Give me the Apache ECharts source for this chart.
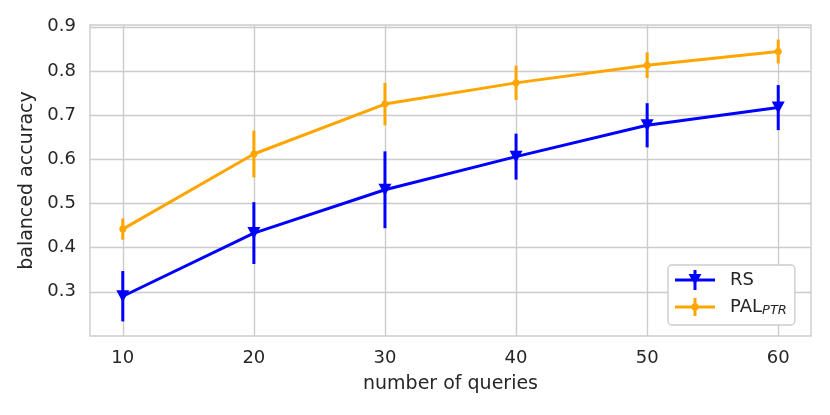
<!DOCTYPE html>
<html>
<head>
<meta charset="utf-8">
<script src="https://cdn.jsdelivr.net/npm/echarts@6/dist/echarts.min.js"></script>
<style>html,body{margin:0;padding:0;background:#fff;}#c{width:830px;height:415px;}</style>
</head>
<body>
<div id="c"></div>
<script>
// ---- data ----
const queries = [10, 20, 30, 40, 50, 60];
const rsMean = [0.290, 0.433, 0.531, 0.606, 0.677, 0.717];
const rsErr  = [0.057, 0.070, 0.087, 0.052, 0.050, 0.051];
const palMean = [0.442, 0.612, 0.725, 0.773, 0.813, 0.844];
const palErr  = [0.024, 0.053, 0.048, 0.039, 0.029, 0.027];
const xTicks = [10, 20, 30, 40, 50, 60];
const yTicks = [0.3, 0.4, 0.5, 0.6, 0.7, 0.8, 0.9];
const seriesNames = ['RS', 'PAL'];

const BLUE = '#0000ff', ORANGE = '#ffa500';
const FONT = 'DejaVu Sans';
const TXT = '#262626';

function pts(mean) { return queries.map((q, i) => [q, mean[i]]); }
function errData(mean, err) { return queries.map((q, i) => [q, mean[i] - err[i], mean[i] + err[i]]); }
function errRender(color) {
  return function (params, api) {
    const x = api.value(0);
    const p1 = api.coord([x, api.value(1)]);
    const p2 = api.coord([x, api.value(2)]);
    return {
      type: 'line',
      shape: { x1: p1[0], y1: p1[1], x2: p2[0], y2: p2[1] },
      style: { stroke: color, lineWidth: 3 }
    };
  };
}

const rsIcon = 'path://M0,8.5 L40,8.5 L40,11.5 L0,11.5 Z M18.5,0 L21.5,0 L21.5,20 L18.5,20 Z M13.5,4 L26.5,4 L20,15 Z';
const palIcon = 'path://M0,8.5 L40,8.5 L40,11.5 L0,11.5 Z M18.5,1 L21.5,1 L21.5,19 L18.5,19 Z M16.3,10 A3.7,3.7 0 1,1 23.7,10 A3.7,3.7 0 1,1 16.3,10 Z';

const chart = echarts.init(document.getElementById('c'), null, { renderer: 'canvas' });
chart.setOption({
  animation: false,
  backgroundColor: '#ffffff',
  grid: { left: 90, right: 19, top: 25, bottom: 79, show: true, borderColor: '#cccccc', borderWidth: 1.4 },
  xAxis: {
    type: 'value', min: 7.5, max: 62.5,
    name: 'number of queries', nameLocation: 'middle', nameGap: 39,
    nameTextStyle: { fontFamily: FONT, fontSize: 19, color: TXT },
    axisLine: { show: false },
    axisTick: { show: false, customValues: xTicks },
    axisLabel: { customValues: xTicks, fontFamily: FONT, fontSize: 18, color: TXT, margin: 13 },
    splitLine: { show: true, lineStyle: { color: '#cccccc', width: 1.4 } }
  },
  yAxis: {
    type: 'value', min: 0.2, max: 0.904,
    name: 'balanced accuracy', nameLocation: 'middle', nameGap: 51,
    nameTextStyle: { fontFamily: FONT, fontSize: 19, color: TXT },
    axisLine: { show: false },
    axisTick: { show: false, customValues: yTicks },
    axisLabel: { customValues: yTicks, fontFamily: FONT, fontSize: 18, color: TXT, margin: 14,
      formatter: v => v.toFixed(1) },
    splitLine: { show: true, lineStyle: { color: '#cccccc', width: 1.4 } }
  },
  legend: {
    orient: 'vertical', left: 668, top: 265,
    width: 129, height: 61,
    padding: [5, 8, 8, 7],
    itemGap: 8,
    itemWidth: 40, itemHeight: 20,
    backgroundColor: '#ffffff', borderColor: '#cccccc', borderWidth: 1.4, borderRadius: 4,
    data: [
      { name: 'RS', icon: rsIcon, itemStyle: { color: BLUE } },
      { name: 'PAL', icon: palIcon, itemStyle: { color: ORANGE } }
    ],
    formatter: n => n === 'PAL' ? 'PAL{sub|PTR}' : n,
    textStyle: {
      fontFamily: FONT, fontSize: 18, color: TXT, padding: [0, 0, 0, 10],
      rich: { sub: { fontFamily: FONT, fontSize: 13, fontStyle: 'italic', color: TXT, padding: [7, 0, 0, 0] } }
    }
  },
  series: [
    {
      name: seriesNames[0], type: 'line', data: pts(rsMean),
      symbol: 'triangle', symbolRotate: 180, symbolSize: [13, 12],
      lineStyle: { color: BLUE, width: 3 }, itemStyle: { color: BLUE }, z: 3
    },
    {
      name: seriesNames[0], type: 'custom', data: errData(rsMean, rsErr),
      renderItem: errRender(BLUE), encode: { x: 0, y: [1, 2] }, z: 3
    },
    {
      name: seriesNames[1], type: 'line', data: pts(palMean),
      symbol: 'circle', symbolSize: 7,
      lineStyle: { color: ORANGE, width: 3 }, itemStyle: { color: ORANGE }, z: 4
    },
    {
      name: seriesNames[1], type: 'custom', data: errData(palMean, palErr),
      renderItem: errRender(ORANGE), encode: { x: 0, y: [1, 2] }, z: 4
    }
  ]
});
</script>
</body>
</html>
